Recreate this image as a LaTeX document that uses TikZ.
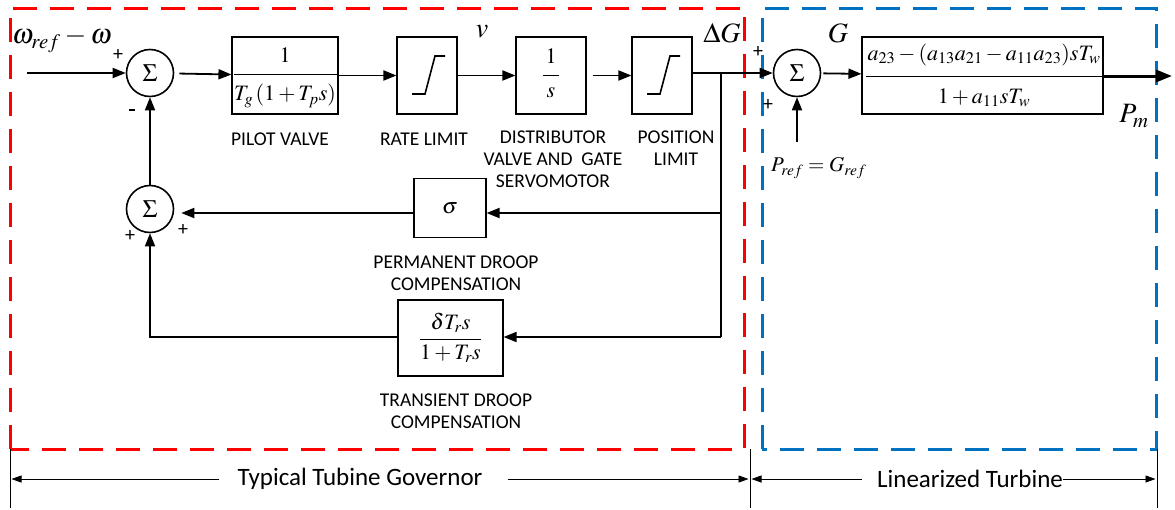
\documentclass[tikz,border=0pt]{standalone}
\usepackage{mathptmx}
\usepackage[no-math]{fontspec}
\newfontfamily\lab{Carlito}
\usetikzlibrary{arrows.meta,calc}
\definecolor{gred}{RGB}{255,0,0}
\definecolor{tblue}{RGB}{0,112,192}
\begin{document}
\begin{tikzpicture}[x=1pt,y=-1pt,
  blk/.style={draw, line width=1.1pt, inner sep=0pt},
  sumnode/.style={circle, draw, line width=1.6pt, minimum size=47pt, inner sep=0pt, font=\fontsize{25}{25}\selectfont},
  sig/.style={line width=1.8pt, -{Triangle[length=13pt,width=10pt]}},
  wire/.style={line width=1.8pt},
  bigsig/.style={line width=3pt, -{Triangle[length=16pt,width=12pt]}},
  mth/.style={font=\fontsize{22}{26}\selectfont, inner sep=0pt},
  big/.style={font=\fontsize{28}{30}\selectfont, inner sep=0pt},
  lbl/.style={font=\lab\fontsize{19.5}{22}\selectfont, align=center, inner sep=0pt},
  sgn/.style={font=\lab\fontsize{20}{20}\selectfont, inner sep=0pt},
  satur/.style={line width=1.6pt},
  regbox/.style={line width=3pt, dash pattern=on 24pt off 13pt},
  dim/.style={line width=0.8pt},
  dimarr/.style={line width=0.8pt, -{Triangle[length=10pt,width=7pt]}},
  frbar/.style={line width=1pt}
]
\useasboundingbox (0,0) rectangle (1175,509);

% region boxes
\draw[regbox, gred] (10,449) -- (10,8) -- (744,8) -- (744,449) -- cycle;
\draw[regbox, tblue] (762,449) -- (762,8) -- (1156,8) -- (1156,449) -- cycle;

% summing junctions
\node[sumnode] (s1) at (150,73) {$\Sigma$};
\node[sumnode] (s3) at (150,209) {$\Sigma$};
\node[sumnode] (s2) at (797,73) {$\Sigma$};

% pilot valve
\node[blk, minimum width=106pt, minimum height=77pt] (pv) at (285,75.5) {};
\node[mth] (pvn) at (285,55) {$1$};
\node[mth] (pvd) at (285,96) {$T_g\,(1+T_p s)$};
\draw[frbar] ($(pv.west)+(3,-1)$) -- ($(pv.east)+(0,-1)$);

% rate limit
\node[blk, minimum width=60pt, minimum height=77pt] (rl) at (427,75.5) {};
\draw[satur] ($(rl.center)+(-15,18.5)$) -- ++(13,0) -- ++(10,-38) -- ++(10,0);

% integrator
\node[blk, minimum width=70pt, minimum height=77pt] (ig) at (551,75.5) {};
\node[mth] (ign) at (551,56) {$1$};
\node[mth] (igd) at (551,93) {$s$};
\draw[frbar] ($(ig.center)+(-8,0)$) -- ($(ig.center)+(8,0)$);

% position limit
\node[blk, minimum width=60pt, minimum height=77pt] (pl) at (662,75.5) {};
\draw[satur] ($(pl.center)+(-15,18.5)$) -- ++(13,0) -- ++(10,-38) -- ++(10,0);

% permanent droop
\node[blk, minimum width=72pt, minimum height=59pt, mth] (sg) at (450,208) {$\sigma$};

% transient droop
\node[blk, minimum width=105pt, minimum height=76pt, mth] (td) at (450.5,338) {$\displaystyle\frac{\delta T_r s}{1+T_r s}$};

% turbine
\node[blk, minimum width=241pt, minimum height=77pt] (tb) at (982.5,75.5) {};
\node[mth] (tbn) at (984,55) {$a_{23}-(a_{13}a_{21}-a_{11}a_{23})sT_w$};
\node[mth] (tbd) at (984,98) {$1+a_{11}sT_w$};
\draw[frbar] ($(tb.west)+(5,0.5)$) -- ($(tb.east)+(0,0.5)$);

% coordinates
\coordinate (in) at (27,73);
\coordinate (br) at (721,73);
\coordinate (j1) at (721,213);
\coordinate (bb) at (721,337);
\coordinate (pr) at (797,142);
\coordinate (out) at (1172,76);

% connectors
\draw[sig] (in) -- (s1);
\draw[sig, shorten <=5pt] (s1) -- (pv);
\draw[sig] (pv) -- (rl);
\draw[sig] (rl) -- (ig);
\draw[sig, shorten <=6pt] (ig) -- (pl);
\draw[sig] (pl.east |- br) -- (s2);
\draw[wire] (br) -- (bb);
\draw[sig] (j1) -- (sg.east |- j1);
\draw[sig, shorten >=7pt] (sg.west |- j1) -- (s3.east |- j1);
\draw[sig] (bb) -- (td.east |- bb);
\draw[sig] (td.west |- bb) -- (s3.south |- bb) -- (s3.south);
\draw[sig] (s3) -- (s1);
\draw[sig, shorten <=2pt] (s2) -- (tb);
\draw[sig] (pr) -- (s2);
\draw[bigsig] (tb.east |- out) -- (out);

% signal labels
\node[big] (lw) at (62,40) {$\omega_{ref}-\omega$};
\node[big] (lv) at (482,32) {$v$};
\node[big] (ldg) at (722,33) {$\Delta G$};
\node[big] (lg) at (838,33) {$G$};
\node[big] (lpm) at (1134,116) {$P_m$};
\node[font=\fontsize{21}{24}\selectfont, inner sep=0pt, anchor=west] (lpr) at (771,168) {$P_{ref}=G_{ref}$};

% signs
\node[sgn] (p1) at (118,55) {+};
\node[inner sep=0pt] (m1) at (132,110) {\rule{6pt}{2.2pt}};
\node[sgn] (p3a) at (130,236) {+};
\node[sgn] (p3b) at (183,230) {+};
\node[sgn] (p2a) at (758,52) {+};
\node[sgn] (p2b) at (768,105) {+};

% block labels
\node[lbl] (lpv) at (280,139) {PILOT VALVE};
\node[lbl] (lrl) at (424,139) {RATE LIMIT};
\node[lbl, anchor=north] (lig) at (553,131) {DISTRIBUTOR\\VALVE AND\ \ GATE\\SERVOMOTOR};
\node[lbl, anchor=north] (lpl) at (676,131) {POSITION\\LIMIT};
\node[lbl, anchor=north] (lsg) at (456,256) {PERMANENT DROOP\\COMPENSATION};
\node[lbl, anchor=north] (ltd) at (456,394) {TRANSIENT DROOP\\COMPENSATION};

% dimension lines
\draw[dim] (10,449) -- (10,508);
\draw[dim] (750,449) -- (750,508);
\draw[dim] (1157,449) -- (1157,508);
\node[font=\lab\fontsize{25}{25}\selectfont, inner sep=0pt] (t1) at (360,479) {Typical Tubine Governor};
\node[font=\lab\fontsize{25}{25}\selectfont, inner sep=0pt] (t2) at (970,479) {Linearized Turbine};
\coordinate (a1) at (11.5,479);
\coordinate (a2) at (748.5,479);
\coordinate (a3) at (751.5,479);
\coordinate (a4) at (1155.5,479);
\draw[dimarr, shorten <=18pt] (t1.west) -- (a1);
\draw[dimarr, shorten <=25pt] (t1.east) -- (a2);
\draw[dimarr, shorten <=15pt] (t2.west) -- (a3);
\draw[dimarr] (t2.east) -- (a4);
\end{tikzpicture}
\end{document}
